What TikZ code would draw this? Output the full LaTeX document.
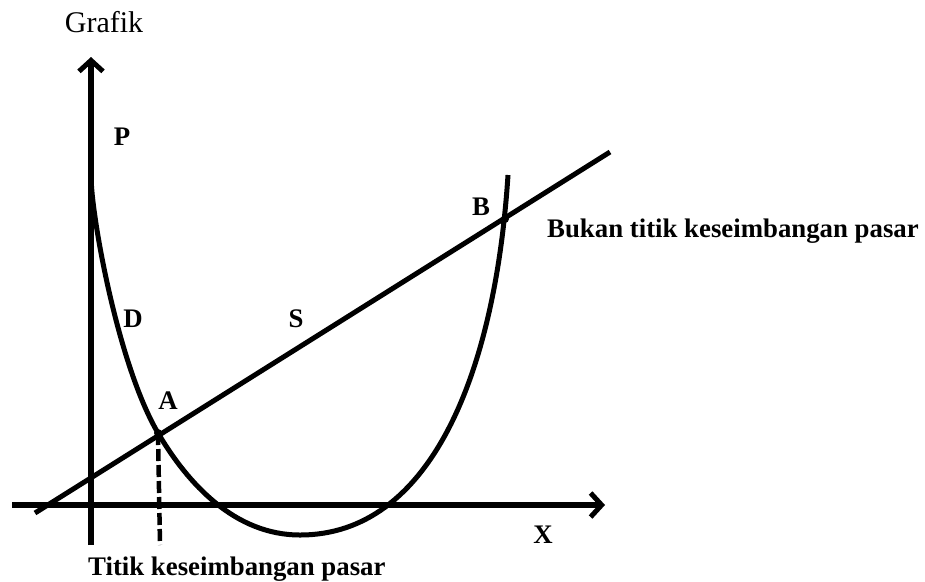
\documentclass[tikz,border=0pt]{standalone}
\usepackage{fontspec}
\setmainfont{Liberation Serif}
\usetikzlibrary{arrows.meta}

\begin{document}
\begin{tikzpicture}[
    x=1pt, y=-1pt,
    axis/.style={line width=5.5pt, -{Straight Barb[length=11pt, width=24pt, line width=5pt]}},
    curve/.style={line width=5pt},
    guide/.style={line width=4.5pt, dash pattern=on 12pt off 4pt},
    lbl/.style={anchor=base, inner sep=0pt, font=\fontsize{26.8}{30}\selectfont\bfseries},
    dot/.style={circle, fill, inner sep=0pt, minimum size=8pt}
]
\useasboundingbox (0,0) rectangle (925,581);

% axes
\coordinate (ybot) at (91,545);
\coordinate (ytop) at (91,57);
\coordinate (xleft) at (12,505);
\coordinate (xright) at (605,505);
\draw[axis] (ybot) -- (ytop);
\draw[axis] (xleft) -- (xright);

% supply line
\coordinate (sstart) at (35,513);
\coordinate (send) at (610,152);
\draw[curve] (sstart) -- (send);

% demand curve
\coordinate (dtop) at (91,175);
\coordinate (A) at (158,433);
\coordinate (dmin) at (300,535);
\coordinate (dend) at (508,175);
\draw[curve] (dtop) .. controls (91,215) and (118,365) .. (A)
    .. controls (188,484) and (235,535) .. (dmin)
    .. controls (430,535) and (495,375) .. (dend);

% intersections
\coordinate (B) at (505,219);
\coordinate (Abase) at (160,545);
\node[dot] at (A) {};
\node[dot] at (B) {};
\draw[guide] (A) -- (Abase);

% labels
\node[anchor=base, inner sep=0pt, font=\fontsize{30}{34}\selectfont] (grafik) at (104,32) {Grafik};
\node[lbl] (p) at (122,145) {P};
\node[lbl] (d) at (133,327) {D};
\node[lbl] (s) at (296,327) {S};
\node[lbl] (a) at (168,409) {A};
\node[lbl] (b) at (481,215) {B};
\node[lbl] (x) at (543,543) {X};
\node[lbl, anchor=base west] (bukan) at (547,237) {Bukan titik keseimbangan pasar};
\node[lbl, anchor=base west] (titik) at (88,575) {Titik keseimbangan pasar};
\end{tikzpicture}
\end{document}
